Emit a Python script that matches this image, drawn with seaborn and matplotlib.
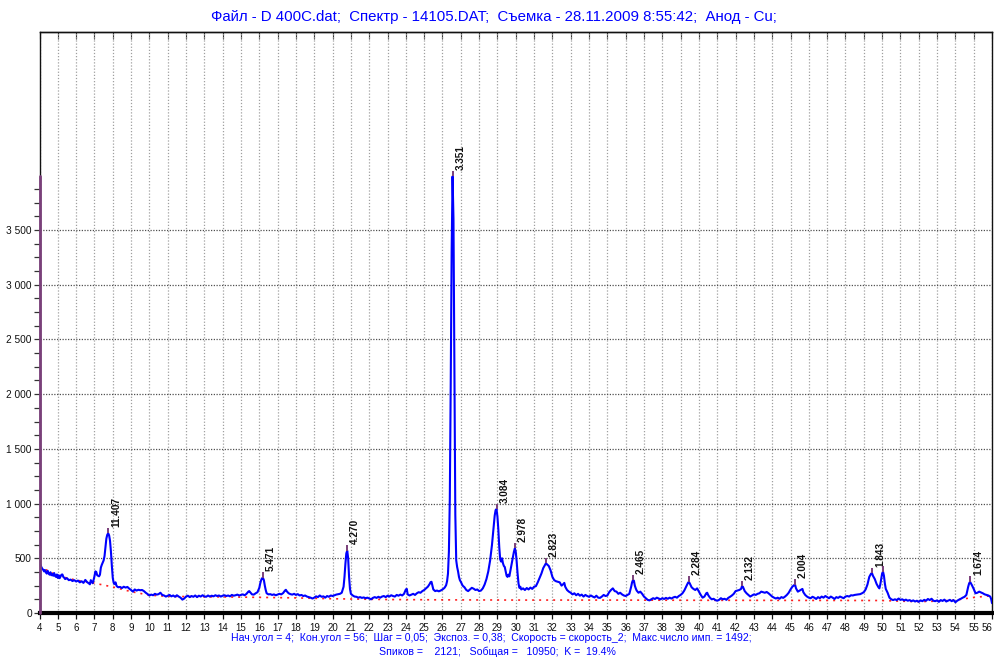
import matplotlib
matplotlib.use("Agg")
import matplotlib.pyplot as plt
import matplotlib.ticker as mticker
import seaborn as sns

# Diffraction scan: 2-theta (deg) and detector counts
two_theta = [
    4.00, 4.05, 4.10, 4.15, 4.20, 4.25, 4.30, 4.35, 4.40, 4.45, 4.50, 4.55, 4.60, 4.65, 4.70, 4.75, 4.80, 4.85, 4.90, 4.95,
    5.00, 5.05, 5.10, 5.15, 5.20, 5.25, 5.30, 5.35, 5.40, 5.50, 5.60, 5.70, 5.80, 5.90,
    6.00, 6.10, 6.20, 6.30, 6.40, 6.50, 6.60, 6.70, 6.75, 6.80, 6.85, 6.90, 6.95,
    7.00, 7.05, 7.10, 7.15, 7.20, 7.25, 7.30, 7.35, 7.40, 7.45, 7.50, 7.55, 7.60, 7.65, 7.70, 7.75, 7.80, 7.85, 7.90, 7.95,
    8.00, 8.05, 8.10, 8.15, 8.20, 8.25, 8.30, 8.40, 8.50, 8.60, 8.70, 8.80, 8.90,
    9.0, 9.1, 9.2, 9.3, 9.4, 9.5, 9.6, 9.7, 9.8, 9.9,
    10.0, 10.1, 10.2, 10.3, 10.4, 10.5, 10.6, 10.7, 10.8, 10.9,
    11.0, 11.1, 11.2, 11.3, 11.4, 11.5, 11.6, 11.7, 11.8, 11.9,
    12.0, 12.1, 12.2, 12.3, 12.4, 12.5, 12.6, 12.7, 12.8, 12.9,
    13.0, 13.1, 13.2, 13.3, 13.4, 13.5, 13.6, 13.7, 13.8, 13.9,
    14.0, 14.1, 14.2, 14.3, 14.4, 14.5, 14.6, 14.7, 14.8, 14.9,
    15.0, 15.1, 15.2, 15.3, 15.4, 15.45, 15.5, 15.6, 15.7, 15.8, 15.9,
    16.0, 16.05, 16.1, 16.15, 16.2, 16.25, 16.3, 16.35, 16.4, 16.5, 16.6, 16.7, 16.8, 16.9,
    17.0, 17.1, 17.2, 17.3, 17.4, 17.45, 17.5, 17.6, 17.7, 17.8, 17.9,
    18.0, 18.1, 18.2, 18.3, 18.4, 18.5, 18.6, 18.7, 18.8, 18.9,
    19.0, 19.1, 19.2, 19.3, 19.4, 19.5, 19.6, 19.7, 19.8, 19.9,
    20.0, 20.1, 20.2, 20.3, 20.4, 20.5, 20.6, 20.65, 20.7, 20.75, 20.8, 20.85, 20.9, 20.95,
    21.0, 21.1, 21.2, 21.3, 21.4, 21.5, 21.6, 21.7, 21.8, 21.9,
    22.0, 22.1, 22.2, 22.3, 22.4, 22.5, 22.6, 22.7, 22.8, 22.9,
    23.0, 23.1, 23.2, 23.3, 23.4, 23.5, 23.6, 23.7, 23.8, 23.9,
    24.0, 24.05, 24.1, 24.2, 24.3, 24.4, 24.5, 24.6, 24.7, 24.8, 24.9,
    25.0, 25.1, 25.2, 25.3, 25.35, 25.4, 25.45, 25.5, 25.6, 25.7, 25.8, 25.9,
    26.0, 26.1, 26.15, 26.2, 26.25, 26.3, 26.35, 26.4, 26.45, 26.5, 26.55, 26.6, 26.65, 26.7, 26.75, 26.8, 26.85, 26.9, 26.95,
    27.0, 27.1, 27.2, 27.3, 27.4, 27.5, 27.6, 27.7, 27.8, 27.9,
    28.0, 28.1, 28.2, 28.3, 28.4, 28.5, 28.6, 28.7, 28.8, 28.85, 28.9, 28.95,
    29.0, 29.05, 29.1, 29.15, 29.2, 29.25, 29.3, 29.35, 29.4, 29.45, 29.5, 29.55, 29.6, 29.65, 29.7, 29.75, 29.8, 29.85, 29.9, 29.95,
    30.0, 30.05, 30.1, 30.15, 30.2, 30.25, 30.3, 30.4, 30.5, 30.6, 30.7, 30.8, 30.9,
    31.0, 31.1, 31.2, 31.3, 31.4, 31.5, 31.6, 31.65, 31.7, 31.8, 31.9,
    32.0, 32.1, 32.2, 32.3, 32.4, 32.5, 32.6, 32.65, 32.7, 32.8, 32.9,
    33.0, 33.1, 33.2, 33.3, 33.4, 33.5, 33.6, 33.7, 33.8, 33.9,
    34.0, 34.1, 34.2, 34.3, 34.4, 34.5, 34.6, 34.7, 34.8, 34.9,
    35.0, 35.1, 35.2, 35.3, 35.4, 35.5, 35.6, 35.7, 35.8, 35.9,
    36.0, 36.1, 36.2, 36.3, 36.35, 36.4, 36.45, 36.5, 36.55, 36.6, 36.7, 36.8, 36.9,
    37.0, 37.1, 37.2, 37.3, 37.4, 37.5, 37.6, 37.7, 37.8, 37.9,
    38.0, 38.1, 38.2, 38.3, 38.4, 38.5, 38.6, 38.7, 38.8, 38.9,
    39.0, 39.1, 39.2, 39.3, 39.4, 39.45, 39.5, 39.6, 39.7, 39.8, 39.9,
    40.0, 40.1, 40.2, 40.3, 40.4, 40.45, 40.5, 40.6, 40.7, 40.8, 40.9,
    41.0, 41.1, 41.2, 41.3, 41.4, 41.5, 41.6, 41.7, 41.8, 41.9,
    42.0, 42.1, 42.2, 42.3, 42.35, 42.4, 42.5, 42.6, 42.7, 42.8, 42.9,
    43.0, 43.1, 43.2, 43.3, 43.4, 43.5, 43.6, 43.7, 43.8, 43.9,
    44.0, 44.1, 44.2, 44.3, 44.4, 44.5, 44.6, 44.7, 44.8, 44.9,
    45.0, 45.1, 45.2, 45.25, 45.3, 45.4, 45.5, 45.6, 45.65, 45.7, 45.8, 45.9,
    46.0, 46.1, 46.2, 46.3, 46.4, 46.5, 46.6, 46.7, 46.8, 46.9,
    47.0, 47.1, 47.2, 47.3, 47.4, 47.5, 47.6, 47.7, 47.8, 47.9,
    48.0, 48.1, 48.2, 48.3, 48.4, 48.5, 48.6, 48.7, 48.8, 48.9,
    49.0, 49.1, 49.2, 49.3, 49.4, 49.45, 49.5, 49.6, 49.7, 49.8, 49.85, 49.9, 49.95,
    50.0, 50.05, 50.1, 50.15, 50.2, 50.3, 50.4, 50.5, 50.6, 50.7, 50.8, 50.9,
    51.0, 51.1, 51.2, 51.3, 51.4, 51.5, 51.6, 51.7, 51.8, 51.9,
    52.0, 52.1, 52.2, 52.3, 52.4, 52.5, 52.6, 52.7, 52.8, 52.9,
    53.0, 53.1, 53.2, 53.3, 53.4, 53.5, 53.6, 53.7, 53.8, 53.9,
    54.0, 54.1, 54.2, 54.3, 54.4, 54.5, 54.6, 54.7, 54.75, 54.8, 54.85, 54.9,
    55.0, 55.1, 55.2, 55.3, 55.4, 55.5, 55.6, 55.7, 55.8, 55.9, 55.95, 56.0,
]
counts = [
    465, 440, 420, 405, 395, 380, 392, 370, 360, 385, 362, 350, 372, 345, 355, 340, 365, 338, 330, 352,
    320, 345, 318, 335, 350, 352, 330, 322, 310, 318, 300, 305, 292, 300,
    288, 296, 280, 290, 275, 302, 282, 270, 262, 300, 285, 272, 300,
    335, 380, 375, 345, 340, 335, 350, 415, 440, 460, 480, 520, 600, 680, 715, 728, 710, 660, 560, 430,
    320, 275, 265, 280, 250, 240, 235, 238, 228, 240, 232, 238, 222,
    210, 195, 215, 205, 212, 208, 210, 200, 185, 172,
    160, 168, 162, 175, 168, 172, 185, 165, 160, 150,
    158, 165, 152, 160, 148, 162, 150, 140, 122, 132,
    150, 158, 145, 155, 148, 160, 145, 158, 150, 162,
    152, 148, 160, 150, 158, 152, 162, 155, 160, 150,
    158, 162, 155, 160, 152, 165, 158, 162, 168, 160,
    165, 170, 162, 175, 195, 200, 190, 170, 168, 180, 190,
    230, 270, 300, 318, 320, 300, 250, 210, 180, 170, 172, 165, 170, 162,
    168, 175, 170, 182, 205, 212, 198, 180, 172, 168, 175,
    165, 172, 160, 165, 155, 160, 150, 145, 140, 132,
    140, 152, 145, 160, 148, 152, 140, 155, 148, 160,
    155, 162, 168, 172, 175, 185, 240, 330, 450, 545, 570, 500, 330, 220,
    175, 160, 150, 148, 140, 145, 138, 142, 135, 140,
    132, 125, 138, 145, 138, 148, 140, 150, 155, 145,
    158, 150, 162, 155, 150, 165, 158, 168, 160, 175,
    215, 220, 170, 160, 168, 175, 165, 180, 190, 185, 200,
    210, 225, 240, 265, 282, 285, 250, 215, 200, 205, 198, 205,
    215, 228, 240, 255, 290, 360, 560, 1050, 2100, 3300, 3990, 3600, 2200, 900, 480, 420, 380, 330, 300,
    285, 250, 235, 210, 200, 215, 230, 222, 210, 215,
    200, 205, 225, 260, 310, 380, 480, 620, 800, 890, 940, 950,
    880, 760, 600, 490, 470, 500, 455, 430, 420, 380, 340, 330, 350, 335, 380, 420, 470, 520, 560, 590,
    560, 470, 360, 270, 230, 240, 215, 225, 210, 228, 215, 232, 220,
    240, 245, 280, 320, 360, 410, 440, 455, 445, 430, 390,
    330, 300, 290, 285, 280, 250, 265, 275, 240, 210, 195,
    185, 170, 180, 162, 175, 158, 168, 150, 165, 155,
    148, 160, 150, 142, 158, 140, 138, 150, 165, 155,
    160, 190, 210, 225, 200, 195, 175, 185, 170, 160,
    155, 165, 175, 240, 280, 300, 295, 250, 225, 205, 185, 195, 175,
    150, 135, 120, 115, 125, 135, 128, 140, 132, 125,
    135, 128, 138, 130, 140, 132, 142, 148, 140, 155,
    165, 180, 205, 240, 275, 285, 270, 235, 220, 210, 225,
    195, 165, 140, 150, 180, 185, 165, 140, 125, 130, 118,
    112, 120, 135, 125, 130, 120, 138, 148, 160, 175,
    200, 205, 210, 220, 245, 240, 200, 180, 165, 150, 160,
    170, 165, 175, 180, 195, 190, 185, 192, 180, 165,
    150, 140, 132, 140, 130, 145, 138, 150, 165, 185,
    215, 240, 255, 258, 225, 195, 205, 215, 220, 190, 165, 150,
    140, 135, 148, 140, 128, 145, 135, 150, 140, 155,
    145, 135, 150, 140, 128, 145, 138, 150, 142, 135,
    150, 155, 150, 162, 160, 165, 168, 170, 172, 180,
    190, 215, 260, 330, 360, 363, 340, 310, 265, 235, 225, 260, 310,
    360, 378, 340, 270, 220, 185, 140, 125, 118, 125, 118, 132,
    120, 125, 115, 122, 112, 118, 108, 115, 105, 112,
    102, 115, 108, 120, 112, 128, 118, 130, 112, 108,
    115, 102, 118, 110, 122, 105, 112, 120, 108, 118,
    98, 112, 122, 130, 140, 148, 165, 240, 270, 285, 270, 255,
    220, 180, 185, 195, 188, 180, 170, 165, 160, 150, 130, 90,
]
assert len(two_theta) == len(counts)

# Fitted background line
background_theta = [4, 5, 6, 7, 8, 9, 10, 11, 13, 15, 18, 20, 23, 26, 30, 35, 40, 45, 50, 51, 52, 53, 54, 55, 56]
background_counts = [425, 340, 300, 272, 238, 195, 163, 152, 148, 145, 138, 130, 123, 120, 118, 118, 116, 115, 114, 108, 104, 108, 118, 142, 158]

# Identified reflections: 2-theta position and interplanar spacing d (Å)
peak_theta = [7.75, 16.20, 20.80, 26.55, 28.95, 29.95, 31.65, 36.40, 39.45, 42.35, 45.25, 49.45, 50.05, 54.80]
peak_d = ["11.407", "5.471", "4.270", "3.351", "3.084", "2.978", "2.823",
          "2.465", "2.284", "2.132", "2.004", "1.843", "", "1.674"]

x_ticks = list(range(4, 57))
y_ticks = [0, 500, 1000, 1500, 2000, 2500, 3000, 3500]

title_text = "Файл - D 400C.dat;  Спектр - 14105.DAT;  Съемка - 28.11.2009 8:55:42;  Анод - Cu;"
footer_line1 = ("Нач.угол = 4;  Кон.угол = 56;  Шаг = 0,05;  Экспоз. = 0,38;  "
                "Скорость = скорость_2;  Макс.число имп. = 1492;")
footer_line2 = "Sпиков =    2121;   Sобщая =   10950;  K =  19.4%"

sns.set_style("white")
plt.rcParams["font.family"] = ["Liberation Sans", "DejaVu Sans"]

BLUE = "#0000FF"
PURPLE = "#7a3f7a"

fig = plt.figure(figsize=(9.95, 6.57), dpi=100)
ax = fig.add_axes([0.0397, 0.0670, 0.9573, 0.8843])

ax.set_xlim(4, 56)
ax.set_ylim(0, 5310)

# grid: light vertical dots, darker horizontal dots
ax.set_xticks(x_ticks)
ax.set_yticks(y_ticks)
ax.xaxis.grid(True, color="#a0a0a0", linestyle=(0, (1, 1.5)), linewidth=0.9)
ax.yaxis.grid(True, color="#505050", linestyle=(0, (1, 1.2)), linewidth=0.9)
ax.set_axisbelow(True)

sns.lineplot(x=background_theta, y=background_counts, ax=ax, color="#ff2020",
             linestyle=(0, (1.2, 3)), linewidth=1.2, estimator=None, zorder=2)
sns.lineplot(x=two_theta, y=counts, ax=ax, color=BLUE, linewidth=1.5,
             estimator=None, zorder=3)

# peak markers and d-spacing labels
counts_at = dict(zip(two_theta, counts))
marker_len = 50
for pos, lbl in zip(peak_theta, peak_d):
    top = counts_at[pos]
    ax.vlines(pos, top, top + marker_len, color=PURPLE, linewidth=1.4, zorder=4)
    if lbl:
        ax.annotate(lbl, xy=(pos, top + marker_len), xytext=(8, 1),
                    textcoords="offset pixels", rotation=90, ha="center",
                    va="bottom", fontsize=7.2, fontweight="bold", color="#111111")

# left axis line drawn in purple over the counted range
ax.plot([4, 4], [0, max(counts)], color=PURPLE, linewidth=2.0, clip_on=False, zorder=5)

# ticks
ax.yaxis.set_major_formatter(mticker.FuncFormatter(lambda v, p: f"{int(v):,}".replace(",", " ")))
ax.set_yticks([v for v in range(125, 4000, 125) if v % 500], minor=True)
ax.tick_params(axis="y", which="major", direction="out", length=4, width=0.9,
               labelsize=7.3, pad=1.5, color="#333333", labelcolor="#111111", left=True)
ax.tick_params(axis="y", which="minor", direction="out", length=4, width=0.9,
               color="#333333", left=True)
ax.tick_params(axis="x", which="major", direction="out", length=4, width=0.9,
               labelsize=7, pad=3, color="#111111", labelcolor="#111111", bottom=True)
ax.get_xticklabels()[-1].set_horizontalalignment("right")

top_axis = ax.secondary_xaxis("top")
top_axis.set_xticks(x_ticks)
top_axis.tick_params(direction="in", length=5, width=0.8, labeltop=False, color="#333333")
top_axis.spines["top"].set_linewidth(1.0)

for side in ["top", "right", "left"]:
    ax.spines[side].set_visible(True)
    ax.spines[side].set_color("#111111")
    ax.spines[side].set_linewidth(1.0)
ax.spines["bottom"].set_color("#000000")
ax.spines["bottom"].set_linewidth(3.0)

ax.set_xlabel("")
ax.set_ylabel("")

fig.text(0.496, 1 - 17 / 657, title_text, ha="center", va="center",
         fontsize=10.8, color=BLUE)
fig.text(0.494, 1 - 638 / 657, footer_line1, ha="center", va="center",
         fontsize=7.6, color=BLUE)
fig.text(0.50, 1 - 652 / 657, footer_line2, ha="center", va="center",
         fontsize=7.6, color=BLUE)

fig.savefig("out.png", dpi=100)
